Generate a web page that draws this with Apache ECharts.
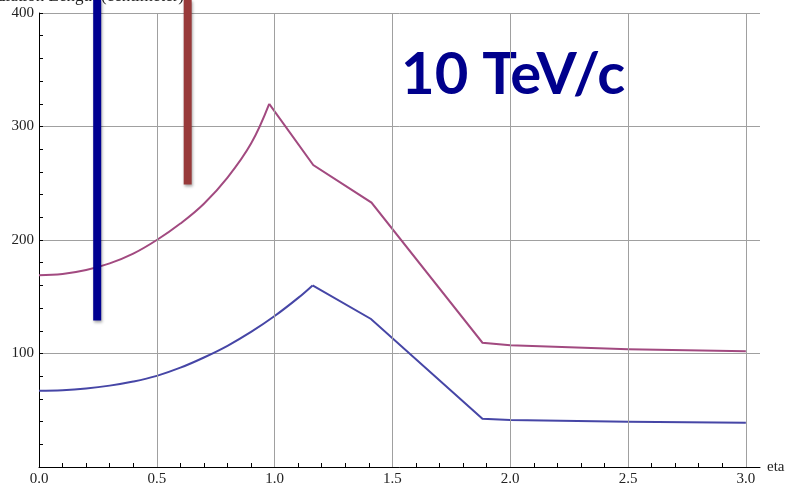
<!DOCTYPE html>
<html>
<head>
<meta charset="utf-8">
<script src="https://cdn.jsdelivr.net/npm/echarts@6/dist/echarts.min.js"></script>
<style>html,body{margin:0;padding:0;background:#fff;}#c{width:792px;height:491px;}</style>
</head>
<body>
<div id="c"></div>
<script>
// Upper (magenta) curve: curved part, then straight segments [eta, value]
const upperCurveEta = [0, 0.1, 0.2, 0.3, 0.4, 0.5, 0.6, 0.7, 0.8, 0.9, 0.977];
const upperCurveVal = [169, 170.1, 173.6, 179.4, 188, 200, 214.5, 232, 255, 285, 320];
const upperLineEta = [0.977, 1.164, 1.411, 1.882, 2.0, 2.5, 3.0];
const upperLineVal = [320, 266, 233, 109.5, 107.3, 103.8, 102];
// Lower (blue) curve
const lowerCurveEta = [0, 0.1, 0.2, 0.3, 0.4, 0.5, 0.6, 0.7, 0.8, 0.9, 1.0, 1.1, 1.161];
const lowerCurveVal = [67.2, 67.7, 69.2, 71.7, 75.3, 80.3, 87.5, 96.5, 106.8, 119, 133, 149, 160];
const lowerLineEta = [1.161, 1.409, 1.882, 2.0, 2.5, 3.0];
const lowerLineVal = [160, 130.4, 42.5, 41.4, 39.9, 39];
// Annotation bars: [eta, bottom value, top value]
const blueBar = [0.247, 129, 412];
const redBar = [0.631, 249, 412];
// Axis ticks
const xLabels = [0, 0.5, 1.0, 1.5, 2.0, 2.5, 3.0];
const xMinor = [0,0.1,0.2,0.3,0.4,0.5,0.6,0.7,0.8,0.9,1.0,1.1,1.2,1.3,1.4,1.5,1.6,1.7,1.8,1.9,2.0,2.1,2.2,2.3,2.4,2.5,2.6,2.7,2.8,2.9,3.0];
const xGrid = [0.5, 1.0, 1.5, 2.0, 2.5, 3.0];

const zip = (a, b) => a.map((v, i) => [v, b[i]]);
const serif = 'Liberation Serif';
const upperColor = '#a24a80';
const lowerColor = '#4646a6';

const chart = echarts.init(document.getElementById('c'), null, {renderer: 'canvas'});
chart.setOption({
  animation: false,
  backgroundColor: '#fff',
  grid: {left: 39, right: 32, top: 13, bottom: 24, containLabel: false},
  xAxis: {
    type: 'value', min: 0, max: 3.06,
    name: 'eta', nameLocation: 'end', nameGap: 7,
    nameTextStyle: {fontFamily: serif, fontSize: 15, color: '#222'},
    axisLine: {show: true, onZero: false, lineStyle: {color: '#000', width: 1}},
    axisTick: {show: true, inside: true, length: 4, customValues: xMinor, lineStyle: {color: '#000'}},
    axisLabel: {customValues: xLabels, fontFamily: serif, fontSize: 15, color: '#222', margin: 5,
      formatter: v => Number(v).toFixed(1)},
    splitLine: {show: false}
  },
  yAxis: {
    type: 'value', min: 0, max: 400, interval: 100,
    axisLine: {show: true, onZero: false, lineStyle: {color: '#000', width: 1}},
    axisTick: {show: true, inside: true, length: 4, lineStyle: {color: '#000'}},
    minorTick: {show: true, splitNumber: 5, length: 4, lineStyle: {color: '#000'}},
    axisLabel: {showMinLabel: false, fontFamily: serif, fontSize: 15, color: '#222', margin: 5},
    splitLine: {show: true, lineStyle: {color: '#a0a0a0', width: 1}}
  },
  graphic: [{
    type: 'text', right: 792 - 184, top: -12,
    style: {text: 'Radiation Length (centimeter)', font: '17px "Liberation Serif"', fill: '#222'}
  }, {
    type: 'text', left: 401, top: 46,
    style: {text: '10 TeV/c', font: 'bold 58px Lato', fill: '#00008c'}
  }],
  series: [{
    type: 'line', data: [], silent: true,
    markLine: {silent: true, symbol: 'none', label: {show: false},
      lineStyle: {color: '#a0a0a0', width: 1, type: 'solid'},
      data: xGrid.map(v => ({xAxis: v}))}
  }, {
    type: 'line', data: zip(upperCurveEta, upperCurveVal), symbol: 'none', smooth: 0.4,
    lineStyle: {color: upperColor, width: 2}
  }, {
    type: 'line', data: zip(upperLineEta, upperLineVal), symbol: 'none',
    lineStyle: {color: upperColor, width: 2, join: 'miter'}
  }, {
    type: 'line', data: zip(lowerCurveEta, lowerCurveVal), symbol: 'none', smooth: 0.4,
    lineStyle: {color: lowerColor, width: 2}
  }, {
    type: 'line', data: zip(lowerLineEta, lowerLineVal), symbol: 'none',
    lineStyle: {color: lowerColor, width: 2, join: 'miter'}
  }, {
    type: 'line', clip: false, symbol: 'none', z: 5,
    data: [[blueBar[0], blueBar[1]], [blueBar[0], blueBar[2]]],
    lineStyle: {color: '#000091', width: 8, cap: 'butt', shadowColor: 'rgba(0,0,0,0.35)', shadowBlur: 3, shadowOffsetX: 1, shadowOffsetY: 2}
  }, {
    type: 'line', clip: false, symbol: 'none', z: 5,
    data: [[redBar[0], redBar[1]], [redBar[0], redBar[2]]],
    lineStyle: {color: '#983a3a', width: 8, cap: 'butt', shadowColor: 'rgba(0,0,0,0.35)', shadowBlur: 3, shadowOffsetX: 1, shadowOffsetY: 2}
  }]
});
</script>
</body>
</html>
